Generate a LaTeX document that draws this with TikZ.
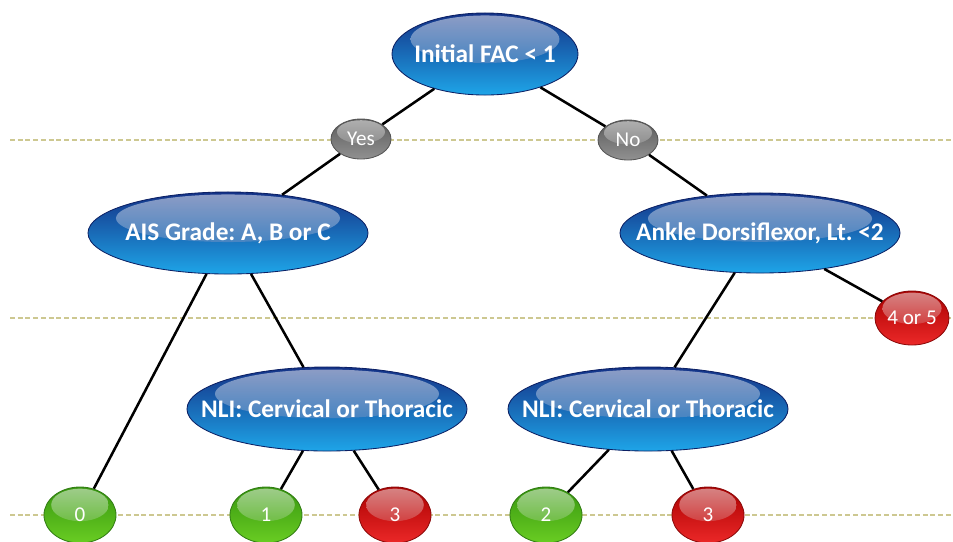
\documentclass[tikz,border=0pt]{standalone}
\usepackage{fontspec}
\setmainfont{Carlito}
\usetikzlibrary{shapes.geometric,calc,positioning}

\definecolor{blueTop}{RGB}{20,50,135}
\definecolor{blueBot}{RGB}{30,165,232}
\definecolor{blueEdge}{RGB}{12,32,100}
\definecolor{grayTop}{RGB}{90,90,90}
\definecolor{grayBot}{RGB}{145,145,145}
\definecolor{grayEdge}{RGB}{85,85,85}
\definecolor{greenTop}{RGB}{55,150,15}
\definecolor{greenBot}{RGB}{105,205,35}
\definecolor{greenEdge}{RGB}{50,125,20}
\definecolor{redTop}{RGB}{170,0,0}
\definecolor{redBot}{RGB}{235,40,40}
\definecolor{redEdge}{RGB}{140,10,10}
\definecolor{guideline}{RGB}{205,200,145}

\begin{document}
\begin{tikzpicture}[
        x=0.025cm, y=-0.025cm,
        glossy/.style={ellipse, inner sep=0pt, draw=#1Edge, line width=0.6pt,
            top color=#1Top, bottom color=#1Bot,
            path picture={
                \shade[top color=white!70!#1Top, bottom color=#1Top!55!#1Bot, fill opacity=0.75]
                    let \p1=($(path picture bounding box.north east)-(path picture bounding box.center)$) in
                    ($(path picture bounding box.center)+(0,0.36*\y1)$) ellipse [x radius=0.8*\x1, y radius=0.58*\y1];
            }},
        bigtext/.style={text=white, font=\fontsize{18}{20}\selectfont\bfseries\frenchspacing},
        smalltext/.style={text=white, font=\fontsize{15}{17}\selectfont},
        edge/.style={line width=1.8pt, black},
        guide/.style={draw=guideline, line width=1pt, dash pattern=on 3.5pt off 2pt}
    ]
    \useasboundingbox (0,0) rectangle (953,541);
    \clip (0,0) rectangle (953,541);

    % Guide lines
    \draw[guide] (10,140) -- (953,140);
    \draw[guide] (10,318) -- (953,318);
    \draw[guide] (10,515) -- (953,515);

    % Nodes
    \node[glossy=blue, minimum width=4.65cm, minimum height=2.05cm,
        label={[bigtext]center:{Initial FAC < 1}}] (fac) at (485,54) {};
    \node[glossy=gray, minimum width=1.5cm, minimum height=1cm,
        label={[smalltext]center:Yes}] (yes) at (361,139) {};
    \node[glossy=gray, minimum width=1.5cm, minimum height=1cm,
        label={[smalltext]center:No}] (no) at (628,140) {};
    \node[glossy=blue, minimum width=7cm, minimum height=2.05cm,
        label={[bigtext]center:{AIS Grade: A, B or C}}] (ais) at (228,233) {};
    \node[glossy=blue, minimum width=7cm, minimum height=2cm,
        label={[bigtext]center:{Ankle Dorsiflexor, Lt.\ <2}}] (ankle) at (760,233) {};
    \node[glossy=red, minimum width=1.85cm, minimum height=1.35cm,
        label={[smalltext]center:4 or 5}] (fourfive) at (912,318) {};
    \node[glossy=blue, minimum width=7cm, minimum height=2.1cm,
        label={[bigtext]center:{NLI: Cervical or Thoracic}}] (nlil) at (327,409) {};
    \node[glossy=blue, minimum width=7cm, minimum height=2.1cm,
        label={[bigtext]center:{NLI: Cervical or Thoracic}}] (nlir) at (648,409) {};
    \node[glossy=green, minimum width=1.8cm, minimum height=1.4cm,
        label={[smalltext]center:0}] (zero) at (80,515) {};
    \node[glossy=green, minimum width=1.8cm, minimum height=1.4cm,
        label={[smalltext]center:1}] (one) at (266,515) {};
    \node[glossy=red, minimum width=1.8cm, minimum height=1.4cm,
        label={[smalltext]center:3}] (threel) at (395,515) {};
    \node[glossy=green, minimum width=1.8cm, minimum height=1.4cm,
        label={[smalltext]center:2}] (two) at (546,515) {};
    \node[glossy=red, minimum width=1.8cm, minimum height=1.4cm,
        label={[smalltext]center:3}] (threer) at (708,515) {};

    % Edges
    \draw[edge] (fac) -- (yes);
    \draw[edge] (fac) -- (no);
    \draw[edge] (yes) -- (ais);
    \draw[edge] (no) -- (ankle);
    \draw[edge] (ais) -- (zero);
    \draw[edge] (ais) -- (nlil);
    \draw[edge] (ankle) -- (nlir);
    \draw[edge] (ankle) -- (fourfive);
    \draw[edge] (nlil) -- (one);
    \draw[edge] (nlil) -- (threel);
    \draw[edge] (nlir) -- (two);
    \draw[edge] (nlir) -- (threer);

\end{tikzpicture}
\end{document}
